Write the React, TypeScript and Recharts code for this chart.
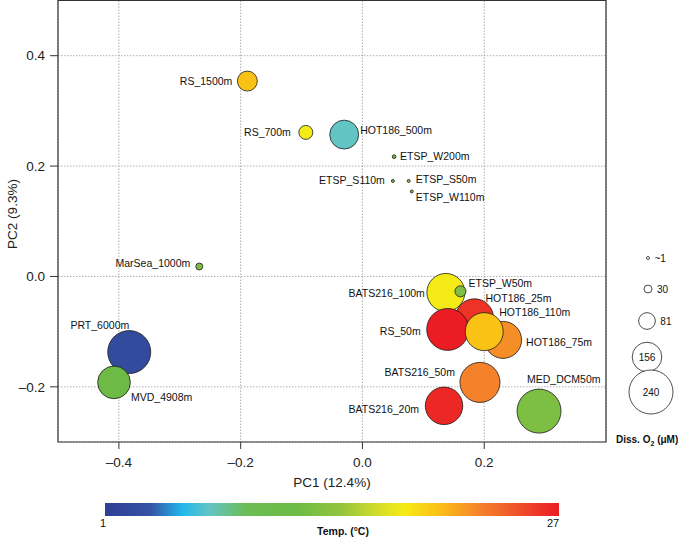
import React from 'react';
import { ScatterChart, Scatter, XAxis, YAxis, CartesianGrid, ReferenceArea } from 'recharts';

// ---- data ----
const sampleNames = [
  'RS_1500m', 'RS_700m', 'HOT186_500m', 'ETSP_W200m', 'ETSP_S110m', 'ETSP_S50m', 'ETSP_W110m',
  'MarSea_1000m', 'PRT_6000m', 'MVD_4908m', 'BATS216_100m', 'HOT186_25m', 'HOT186_75m',
  'RS_50m', 'HOT186_110m', 'ETSP_W50m', 'BATS216_50m', 'BATS216_20m', 'MED_DCM50m',
];
const pc1 = [
  -0.189, -0.093, -0.030, 0.052, 0.050, 0.076, 0.081,
  -0.268, -0.383, -0.408, 0.137, 0.184, 0.231,
  0.140, 0.200, 0.161, 0.193, 0.134, 0.290,
];
const pc2 = [
  0.354, 0.261, 0.257, 0.217, 0.173, 0.173, 0.154,
  0.018, -0.137, -0.192, -0.029, -0.075, -0.115,
  -0.096, -0.100, -0.027, -0.192, -0.2345, -0.244,
];
const tempC = [
  20, 18, 7, 12, 13, 14, 13,
  13, 2.5, 12, 18, 26, 22,
  27, 20, 13, 22.5, 26.5, 13,
];
const oxygen = [
  100, 65, 152, 5, 1, 1, 1,
  24, 234, 174, 205, 205, 199,
  228, 205, 48, 217, 202, 240,
];

const xTicks = [-0.4, -0.2, 0, 0.2];
const yTicks = [-0.2, 0, 0.2, 0.4];
const o2LegendValues = [1, 30, 81, 156, 240];
const o2LegendLabels = ['~1', '30', '81', '156', '240'];
const tempRange = [1, 27];

const points = sampleNames.map((name, i) => ({
  name, x: pc1[i], y: pc2[i], t: tempC[i], o2: oxygen[i],
}));

// ---- layout / style ----
const FONT = '"Liberation Sans", Arial, Helvetica, sans-serif';
const W = 678;
const H = 537;

const colorStops: [number, string][] = [
  [0.0, '#2f3f94'],
  [0.1, '#3553a3'],
  [0.17, '#22b8ec'],
  [0.23, '#62c4c4'],
  [0.31, '#6cbd56'],
  [0.42, '#6cbb45'],
  [0.52, '#93c43e'],
  [0.6, '#d2dd2b'],
  [0.66, '#f7eb14'],
  [0.74, '#fbbd16'],
  [0.82, '#f5862a'],
  [0.92, '#ef4a2a'],
  [1.0, '#ec1c24'],
];

function hexToRgb(h: string) {
  const n = parseInt(h.slice(1), 16);
  return [(n >> 16) & 255, (n >> 8) & 255, n & 255];
}
function tempColor(t: number) {
  const f = Math.max(0, Math.min(1, (t - tempRange[0]) / (tempRange[1] - tempRange[0])));
  for (let i = 1; i < colorStops.length; i++) {
    const [f1, c1] = colorStops[i];
    const [f0, c0] = colorStops[i - 1];
    if (f <= f1) {
      const k = (f - f0) / (f1 - f0);
      const a = hexToRgb(c0);
      const b = hexToRgb(c1);
      const m = a.map((v, j) => Math.round(v + (b[j] - v) * k));
      return `rgb(${m[0]},${m[1]},${m[2]})`;
    }
  }
  return colorStops[colorStops.length - 1][1];
}
function radius(o2: number) {
  return 1.41 + 0.0858 * o2;
}

const labelPlacement: Record<string, { dx: number; dy: number; anchor: 'start' | 'end' }> = {
  RS_1500m: { dx: -15, dy: 0, anchor: 'end' },
  RS_700m: { dx: -15, dy: 0, anchor: 'end' },
  HOT186_500m: { dx: 16, dy: -4, anchor: 'start' },
  ETSP_W200m: { dx: 6, dy: 0, anchor: 'start' },
  ETSP_S110m: { dx: -8, dy: -1, anchor: 'end' },
  ETSP_S50m: { dx: 7, dy: -2, anchor: 'start' },
  ETSP_W110m: { dx: 4, dy: 6, anchor: 'start' },
  MarSea_1000m: { dx: -9, dy: -3, anchor: 'end' },
  PRT_6000m: { dx: 0, dy: -27, anchor: 'end' },
  MVD_4908m: { dx: 17, dy: 15, anchor: 'start' },
  BATS216_100m: { dx: -21, dy: 1, anchor: 'end' },
  HOT186_25m: { dx: 11, dy: -20, anchor: 'start' },
  HOT186_75m: { dx: 23, dy: 2, anchor: 'start' },
  RS_50m: { dx: -27, dy: 2, anchor: 'end' },
  HOT186_110m: { dx: 15, dy: -19, anchor: 'start' },
  ETSP_W50m: { dx: 8, dy: -8, anchor: 'start' },
  BATS216_50m: { dx: -25, dy: -10, anchor: 'end' },
  BATS216_20m: { dx: -25, dy: 3, anchor: 'end' },
  MED_DCM50m: { dx: -12, dy: -32, anchor: 'start' },
};

const Bubble = (props: any) => {
  const { cx, cy, payload } = props;
  if (cx == null || cy == null) return null;
  return (
    <circle cx={cx} cy={cy} r={radius(payload.o2)} fill={tempColor(payload.t)} stroke="#1a1a1a" strokeWidth={0.8} />
  );
};

const PointLabel = (props: any) => {
  const { cx, cy, payload } = props;
  if (cx == null || cy == null) return null;
  const p = labelPlacement[payload.name] || { dx: 8, dy: 0, anchor: 'start' };
  return (
    <text x={cx + p.dx} y={cy + p.dy} dy="0.35em" textAnchor={p.anchor} fontSize={10.5} fill="#111" fontFamily={FONT}>
      {payload.name}
    </text>
  );
};

const fmt = (v: number) => (v < 0 ? '\u2013' + Math.abs(v).toFixed(1) : v.toFixed(1));

// legend geometry
const legendY = [258, 289, 321, 357, 392];
const legendX = [648, 648, 647, 647, 651];
const barX0 = 105;
const barX1 = 559;

export default function App() {
  return (
    <div style={{ position: 'absolute', left: 0, top: 0, width: W, height: H, background: '#fff', fontFamily: FONT }}>
      <ScatterChart width={W} height={H} margin={{ top: 0.5, right: 72, bottom: 65, left: 0 }}>
        <CartesianGrid stroke="#9a9a9a" strokeDasharray="1.5 1.5" strokeWidth={0.8} />
        <XAxis
          type="number"
          dataKey="x"
          domain={[-0.5, 0.4]}
          ticks={xTicks}
          tickFormatter={fmt}
          height={30}
          axisLine={false}
          tickSize={7}
          tickMargin={8}
          tickLine={{ stroke: '#333' }}
          tick={{ fontSize: 13.5, fill: '#222', fontFamily: FONT }}
          allowDataOverflow
        />
        <YAxis
          type="number"
          dataKey="y"
          domain={[-0.3, 0.5]}
          ticks={yTicks}
          tickFormatter={fmt}
          width={58}
          axisLine={false}
          tickSize={8}
          tickMargin={5}
          tickLine={{ stroke: '#333' }}
          tick={{ fontSize: 13.5, fill: '#222', fontFamily: FONT }}
          allowDataOverflow
        />
        <ReferenceArea x1={-0.5} x2={0.4} y1={-0.3} y2={0.5} fill="none" stroke="#333" strokeWidth={1.2} />
        <Scatter data={points} shape={Bubble} isAnimationActive={false} />
        <Scatter data={points} shape={PointLabel} isAnimationActive={false} />
      </ScatterChart>
      <svg width={W} height={H} style={{ position: 'absolute', left: 0, top: 0, pointerEvents: 'none' }}>
        <defs>
          <linearGradient id="tempGrad" x1="0" x2="1" y1="0" y2="0">
            {colorStops.map(([f, c]) => (
              <stop key={f} offset={f} stopColor={c} />
            ))}
          </linearGradient>
        </defs>
        <text x={332} y={487} textAnchor="middle" fontSize={13.5} fill="#222" fontFamily={FONT}>PC1 (12.4%)</text>
        <text x={12} y={214} textAnchor="middle" fontSize={13.5} fill="#222" fontFamily={FONT} transform="rotate(-90 12 214)" dy="0.35em">PC2 (9.3%)</text>
        {o2LegendValues.map((v, i) => (
          <g key={v}>
            <circle cx={legendX[i]} cy={legendY[i]} r={radius(v)} fill="#fff" stroke="#222" strokeWidth={0.8} />
            <text
              x={i < 3 ? legendX[i] + radius(v) + 5 : legendX[i]}
              y={legendY[i]}
              dy="0.35em"
              textAnchor={i < 3 ? 'start' : 'middle'}
              fontSize={10}
              fill="#111"
              fontFamily={FONT}
            >
              {o2LegendLabels[i]}
            </text>
          </g>
        ))}
        <text x={616} y={443} fontSize={10} fontWeight="bold" fill="#111" fontFamily={FONT}>
          Diss. O<tspan fontSize={7} dy={3}>2</tspan><tspan dy={-3}> (μM)</tspan>
        </text>
        <rect x={barX0} y={503} width={barX1 - barX0} height={13} fill="url(#tempGrad)" />
        <text x={barX0 - 2} y={527} textAnchor="middle" fontSize={11} fill="#111" fontFamily={FONT}>{tempRange[0]}</text>
        <text x={barX1 - 6} y={527} textAnchor="middle" fontSize={11} fill="#111" fontFamily={FONT}>{tempRange[1]}</text>
        <text x={343} y={535} textAnchor="middle" fontSize={10.5} fontWeight="bold" fill="#111" fontFamily={FONT}>Temp. (°C)</text>
      </svg>
    </div>
  );
}
